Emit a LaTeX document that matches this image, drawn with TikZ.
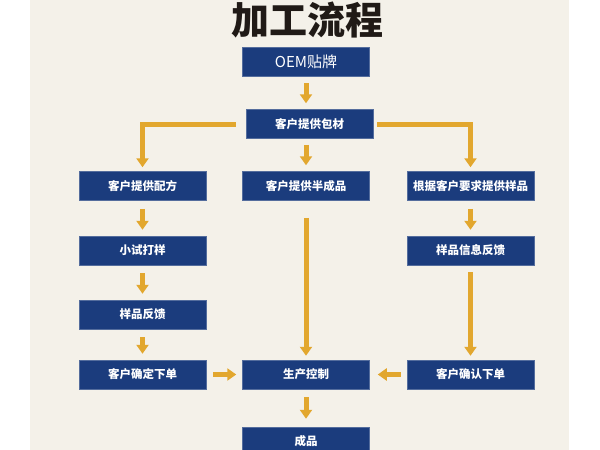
\documentclass[tikz,border=0pt]{standalone}
\usepackage{fontspec}
\newfontfamily\cjk{Noto Sans CJK SC}
\usetikzlibrary{arrows.meta}
\definecolor{boxblue}{HTML}{1B3C7D}
\definecolor{flowgold}{HTML}{E2A72E}
\definecolor{paper}{HTML}{F4F1E9}
\definecolor{inkblack}{HTML}{201A16}

\begin{document}
\begin{tikzpicture}[x=1pt,y=-1pt,
    stepbox/.style={draw=boxblue!75!white,line width=0.5pt,fill=boxblue,
      minimum width=127pt,minimum height=29pt,inner sep=0pt,text=white,
      font=\cjk\bfseries\fontsize{11.5}{12}\selectfont},
    flow/.style={flowgold,line width=5pt,-{Triangle[width=12pt,length=9pt]}}]

    % paper
    \useasboundingbox (0,0) rectangle (600,450);
    \clip (0,0) rectangle (600,450);
    \fill[white] (0,0) rectangle (600,450);
    \fill[paper] (30,0) rectangle (569,450);

    \node[font=\cjk\bfseries\fontsize{38}{38}\selectfont,text=inkblack] (title) at (307,20) {加工流程};

    % boxes
    \node[stepbox,font=\cjk\fontsize{15}{15}\selectfont] (oem) at (306,61.5) {OEM贴牌};
    \node[stepbox] (pack) at (309.5,124) {客户提供包材};

    \node[stepbox] (formula)  at (142.5,186)   {客户提供配方};
    \node[stepbox] (trial)    at (142.5,250.5) {小试打样};
    \node[stepbox] (feedback) at (142.5,314.5) {样品反馈};
    \node[stepbox] (order)    at (142.5,374.5) {客户确定下单};

    \node[stepbox] (semi) at (306,186)   {客户提供半成品};
    \node[stepbox] (prod) at (306,374.5) {生产控制};
    \node[stepbox] (done) at (306,441.5) {成品};

    \node[stepbox] (sample)  at (470.5,186)   {根据客户要求提供样品};
    \node[stepbox] (info)    at (470.5,250.5) {样品信息反馈};
    \node[stepbox] (confirm) at (470.5,374.5) {客户确认下单};

    % arrows
    \draw[flow,shorten <=7pt,shorten >=6pt] (oem.south) -- (oem.south |- pack.north);
    \draw[flow,shorten <=6pt,shorten >=6pt] (semi.north |- pack.south) -- (semi.north);
    \draw[flow,shorten <=10pt,shorten >=4pt] (pack.west) -| (formula.north);
    \draw[flow,shorten <=4pt,shorten >=4pt] (pack.east) -| (sample.north);

    \foreach \a/\b in {formula/trial,trial/feedback,feedback/order,sample/info}
      \draw[flow,shorten <=8pt,shorten >=6pt] (\a) -- (\b);

    \draw[flow,shorten <=17pt,shorten >=4pt] (semi) -- (prod);
    \draw[flow,shorten <=7pt,shorten >=4pt] (info) -- (confirm);
    \draw[flow,shorten <=7pt,shorten >=6pt] (order) -- (prod);
    \draw[flow,shorten <=6pt,shorten >=8pt] (confirm) -- (prod);
    \draw[flow,shorten <=8pt,shorten >=8pt] (prod) -- (done);

\end{tikzpicture}
\end{document}
